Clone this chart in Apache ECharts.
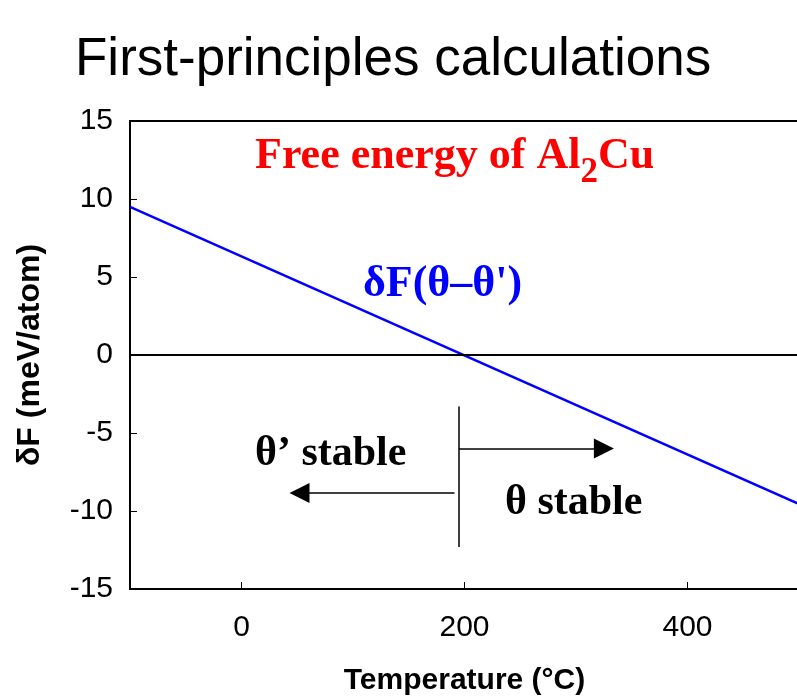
<!DOCTYPE html>
<html><head><meta charset="utf-8">
<script src="https://cdn.jsdelivr.net/npm/echarts@6/dist/echarts.min.js"></script>
<style>html,body{margin:0;padding:0;background:#fff}#c{width:797px;height:698px}</style>
</head><body><div id="c"></div>
<script>
// ---- data ----
const temperatureC = [-100, 500];
const deltaF = [9.5, -9.55];
const xTickValues = [0, 200, 400];
const yMin = -15, yMax = 15, yStep = 5;
const xMin = -100, xMax = 500;
const boundaryT = 195;
const boundaryRange = [-3.3, -12.3];
const arrowRightY = -6.0, arrowRightX = [195, 325];
const arrowLeftY = -8.85, arrowLeftX = [191, 52];

const chart = echarts.init(document.getElementById('c'), null, {renderer: 'canvas'});
const serif = '"Liberation Serif", "Times New Roman", serif';
const sans = '"Liberation Sans", Arial, sans-serif';

const option = {
  animation: false,
  backgroundColor: '#fff',
  title: [
    { text: 'First-principles calculations', left: 75, top: 34, padding: 0,
      textStyle: { fontFamily: sans, fontSize: 53, fontWeight: 'normal', color: '#000' } },
    { text: '{a|Free energy of Al}{s|2}{a|Cu}', left: 255, top: 135, padding: 0,
      textStyle: { rich: {
        a: { fontFamily: serif, fontSize: 44, fontWeight: 'bold', color: '#ff0000', lineHeight: 44, verticalAlign: 'top' },
        s: { fontFamily: serif, fontSize: 35, fontWeight: 'bold', color: '#ff0000', lineHeight: 35, verticalAlign: 'top', padding: [20, 0, 0, 0] }
      } } },
    { text: 'δF(θ–θ\')', left: 363, top: 263, padding: 0,
      textStyle: { fontFamily: serif, fontSize: 44, fontWeight: 'bold', color: '#0000ff' } },
    { text: 'θ’ stable', left: 255, top: 433, padding: 0,
      textStyle: { fontFamily: serif, fontSize: 42, fontWeight: 'bold', color: '#000' } },
    { text: 'θ stable', left: 505, top: 482, padding: 0,
      textStyle: { fontFamily: serif, fontSize: 42, fontWeight: 'bold', color: '#000' } }
  ],
  grid: { left: 130, right: -2, top: 121, bottom: 109, show: true, borderColor: '#000', borderWidth: 2,
          containLabel: false, outerBoundsMode: 'none' },
  xAxis: {
    type: 'value', min: xMin, max: xMax, interval: 100,
    name: 'Temperature (°C)', nameLocation: 'middle', nameGap: 77,
    nameTextStyle: { fontFamily: sans, fontSize: 30, fontWeight: 'bold', color: '#000' },
    axisLine: { show: true, onZero: false, lineStyle: { color: '#000', width: 2 } },
    axisTick: { show: true, inside: true, length: 7, customValues: xTickValues, lineStyle: { color: '#000', width: 1 } },
    axisLabel: { customValues: xTickValues, margin: 24, fontFamily: sans, fontSize: 30, color: '#000' },
    splitLine: { show: false }
  },
  yAxis: {
    type: 'value', min: yMin, max: yMax, interval: yStep,
    name: 'δF (meV/atom)', nameLocation: 'middle', nameGap: 84,
    nameTextStyle: { fontFamily: sans, fontSize: 32, fontWeight: 'bold', color: '#000' },
    axisLine: { show: true, onZero: false, lineStyle: { color: '#000', width: 2 } },
    axisTick: { show: true, inside: true, length: 7, lineStyle: { color: '#000', width: 1 } },
    axisLabel: { margin: 17, fontFamily: sans, fontSize: 30, color: '#000' },
    splitLine: { show: false }
  },
  series: [
    {
      type: 'line', name: 'δF(θ–θ\')',
      data: temperatureC.map((t, i) => [t, deltaF[i]]),
      showSymbol: false, symbol: 'none',
      lineStyle: { color: '#0000ff', width: 2.5 },
      markLine: {
        silent: true, symbol: 'none', label: { show: false },
        lineStyle: { color: '#000', width: 2, type: 'solid' },
        data: [ { yAxis: 0 } ]
      },
      z: 3
    },
    {
      type: 'line', data: [], silent: true,
      markLine: {
        silent: true, label: { show: false },
        lineStyle: { color: '#000', width: 1.5, type: 'solid' },
        data: [
          [ { coord: [boundaryT, boundaryRange[0]], symbol: 'none' }, { coord: [boundaryT, boundaryRange[1]], symbol: 'none' } ],
          [ { coord: [arrowRightX[0], arrowRightY], symbol: 'none' }, { coord: [arrowRightX[1], arrowRightY], symbol: 'triangle', symbolSize: 20 } ],
          [ { coord: [arrowLeftX[0], arrowLeftY], symbol: 'none' }, { coord: [arrowLeftX[1], arrowLeftY], symbol: 'triangle', symbolSize: 20 } ]
        ]
      }
    }
  ]
};
chart.setOption(option);
</script>
</body></html>
